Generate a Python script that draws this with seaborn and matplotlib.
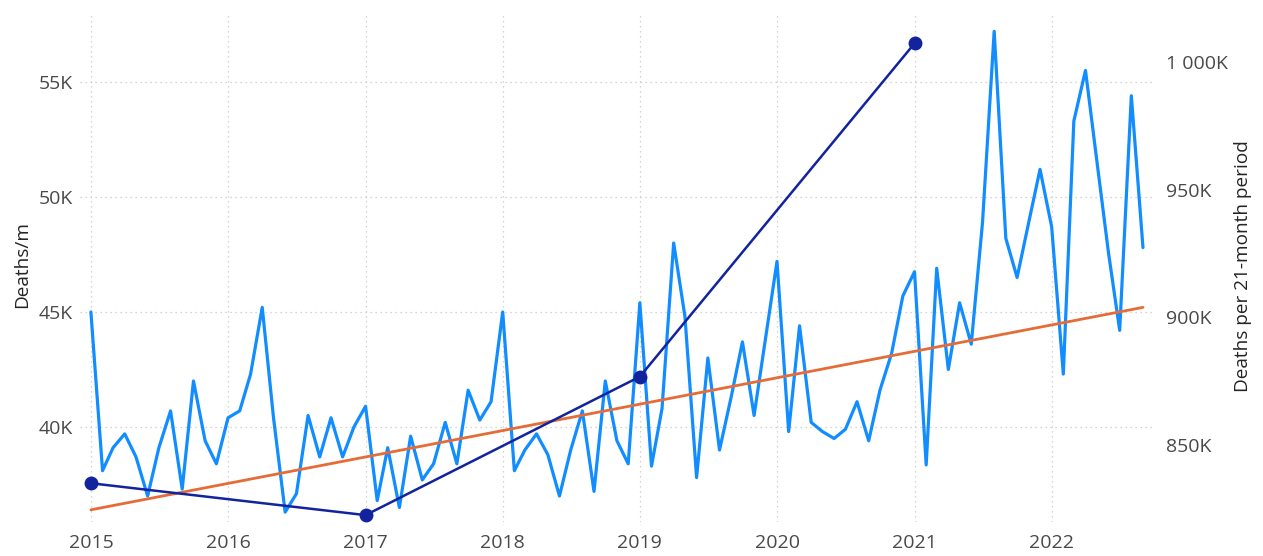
import numpy as np
import pandas as pd
import matplotlib
matplotlib.use("Agg")
import matplotlib.pyplot as plt
import seaborn as sns
from matplotlib.ticker import FuncFormatter

# ---------------- data ----------------
start_month = "2015-01-01"
deaths_per_month_k = [
    45.0, 38.1, 39.1, 39.7, 38.7, 37.0, 39.1, 40.7, 37.3, 42.0, 39.4, 38.4,   # 2015
    40.4, 40.7, 42.3, 45.2, 40.4, 36.3, 37.1, 40.5, 38.7, 40.4, 38.7, 40.0,   # 2016
    40.9, 36.8, 39.1, 36.5, 39.6, 37.7, 38.4, 40.2, 38.4, 41.6, 40.3, 41.1,   # 2017
    45.0, 38.1, 39.0, 39.7, 38.8, 37.0, 39.0, 40.7, 37.2, 42.0, 39.4, 38.4,   # 2018
    45.4, 38.3, 40.8, 48.0, 44.8, 37.8, 43.0, 39.0, 41.3, 43.7, 40.5, 43.8,   # 2019
    47.2, 39.8, 44.4, 40.2, 39.8, 39.5, 39.9, 41.1, 39.4, 41.6, 43.2, 45.7,   # 2020
    46.75, 38.35, 46.9, 42.5, 45.4, 43.6, 48.9, 57.2, 48.2, 46.5, 48.9, 51.2, # 2021
    48.7, 42.3, 53.3, 55.5, 51.6, 47.6, 44.2, 54.4, 47.8,                     # 2022
]
trend_dates = ["2015-01-01", "2022-09-01"]
trend_values_k = [36.4, 45.2]

period_dates = ["2015-01-01", "2017-01-01", "2019-01-01", "2021-01-01"]
period_deaths_k = [835.0, 822.5, 876.8, 1007.5]

year_ticks = [2015, 2016, 2017, 2018, 2019, 2020, 2021, 2022]
left_ticks_k = [40, 45, 50, 55]
right_ticks_k = [850, 900, 950, 1000]

months = pd.date_range(start_month, periods=len(deaths_per_month_k), freq="MS")
df_month = pd.DataFrame({"month": months, "deaths": deaths_per_month_k})
df_trend = pd.DataFrame({"month": pd.to_datetime(trend_dates), "deaths": trend_values_k})
df_period = pd.DataFrame({"month": pd.to_datetime(period_dates), "deaths": period_deaths_k})

# ---------------- style ----------------
sns.set_theme(style="white")
plt.rcParams["font.family"] = ["Open Sans", "DejaVu Sans"]

W, H = 1263, 556
fig = plt.figure(figsize=(W / 100, H / 100), dpi=100)
L, R, T, B = 80, 1155, 12, 522
ax = fig.add_axes([L / W, 1 - B / H, (R - L) / W, (B - T) / H])

light_blue = "#118DFF"
orange = "#E66C37"
navy = "#12239E"
tick_col = "#4A4948"
title_col = "#252423"
grid_col = "#C8C6C4"

sns.lineplot(data=df_month, x="month", y="deaths", ax=ax, color=light_blue,
             linewidth=2.3, zorder=3)
sns.lineplot(data=df_trend, x="month", y="deaths", ax=ax, color=orange,
             linewidth=2.0, zorder=4)

ax2 = ax.twinx()
sns.lineplot(data=df_period, x="month", y="deaths", ax=ax2, color=navy,
             linewidth=1.8, marker="o", markersize=10, markeredgewidth=0,
             zorder=5, clip_on=False)

# ---------------- axes ----------------
x0 = pd.Timestamp(start_month) - pd.Timedelta(days=29)
x1 = pd.Timestamp("2022-09-01") + pd.Timedelta(days=32)
ax.set_xlim(x0, x1)
ax.set_ylim(35.87, 58.04)
ax2.set_ylim(819.8, 1019.8)

ax.set_xticks([pd.Timestamp(f"{y}-01-01") for y in year_ticks])
ax.set_xticklabels([str(y) for y in year_ticks])
ax.set_yticks(left_ticks_k)
ax.yaxis.set_major_formatter(FuncFormatter(lambda v, p: f"{v:.0f}K"))
ax2.set_yticks(right_ticks_k)
ax2.yaxis.set_major_formatter(
    FuncFormatter(lambda v, p: f"{v:,.0f}K".replace(",", " ")))

for a in (ax, ax2):
    for s in a.spines.values():
        s.set_visible(False)
    a.set_xlabel("")
    a.set_ylabel("")

ax.tick_params(axis="x", length=0, pad=9, labelsize=14, labelcolor=tick_col)
ax.tick_params(axis="y", length=0, pad=5, labelsize=14, labelcolor=tick_col)
ax2.tick_params(axis="y", length=0, pad=8, labelsize=14, labelcolor=tick_col)

ax.grid(True, axis="both", color=grid_col, linestyle=(0, (1, 3)), linewidth=0.9)
ax2.grid(False)
ax.set_axisbelow(True)

fig.text(22 / W, 1 - 265 / H, "Deaths/m", rotation=90, ha="center",
         va="center", fontsize=13.7, color=title_col)
fig.text(1243 / W, 1 - 266 / H, "Deaths per 21-month period", rotation=90,
         ha="center", va="center", fontsize=13.7, color=title_col)

fig.savefig("out.png", dpi=100, facecolor="white")
